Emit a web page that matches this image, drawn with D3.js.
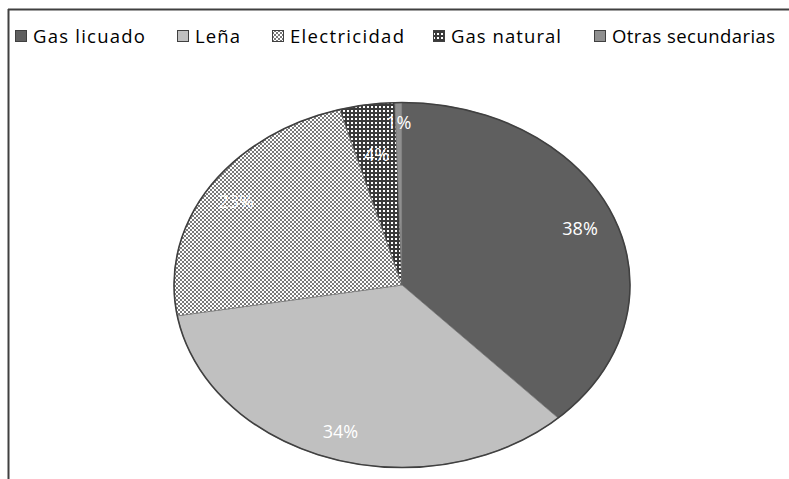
<!DOCTYPE html>
<html><head><meta charset="utf-8">
<script src="https://cdn.jsdelivr.net/npm/d3@7"></script>
<style>html,body{margin:0;padding:0;background:#fff;}svg{display:block;}</style>
</head><body>
<script>
const categories = ["Gas licuado", "Leña", "Electricidad", "Gas natural", "Otras secundarias"];
const values = [38.0, 34.3, 23.3, 3.9, 0.5];
const fills = ["#5f5f5f", "#c0c0c0", "url(#pElec)", "url(#pGasNat)", "#8f8f8f"];
const legendFills = ["#5f5f5f", "#c0c0c0", "url(#pElecL)", "url(#pGasNatL)", "#8f8f8f"];
// layout: radial position of each data label (fraction of radius)
const labelRadius = [0.84, 0.85, 0.86, 0.72, 0.89];

const W = 789, H = 479;
const cx = 402, cy = 285, rx = 228, ry = 182.5;
const sy = ry / rx;

const svg = d3.select("body").append("svg").attr("width", W).attr("height", H);
const defs = svg.append("defs");

function checker(id, tr) {
  const p = defs.append("pattern").attr("id", id).attr("patternUnits", "userSpaceOnUse")
    .attr("width", 4).attr("height", 4);
  if (tr) p.attr("patternTransform", tr);
  p.append("rect").attr("width", 4).attr("height", 4).attr("fill", "#ffffff");
  p.append("rect").attr("width", 2).attr("height", 2).attr("fill", "#7a7a7a");
  p.append("rect").attr("x", 2).attr("y", 2).attr("width", 2).attr("height", 2).attr("fill", "#7a7a7a");
}
function dots(id, tr) {
  const p = defs.append("pattern").attr("id", id).attr("patternUnits", "userSpaceOnUse")
    .attr("width", 4).attr("height", 4);
  if (tr) p.attr("patternTransform", tr);
  p.append("rect").attr("width", 4).attr("height", 4).attr("fill", "#3a3a3a");
  p.append("rect").attr("x", 1).attr("y", 1).attr("width", 2).attr("height", 2).attr("fill", "#ffffff");
}
checker("pElec", `scale(1,${1/sy})`);
dots("pGasNat", `scale(1,${1/sy})`);
checker("pElecL", null);
dots("pGasNatL", null);

// frame
svg.append("line").attr("x1", 8).attr("x2", W).attr("y1", 9.5).attr("y2", 9.5)
  .attr("stroke", "#404040").attr("stroke-width", 2);
svg.append("line").attr("x1", 8.5).attr("x2", 8.5).attr("y1", 9).attr("y2", H)
  .attr("stroke", "#404040").attr("stroke-width", 2);

// pie
const pie = d3.pie().sort(null).value(d => d)(values);
const arc = d3.arc().innerRadius(0).outerRadius(rx);
const g = svg.append("g").attr("transform", `translate(${cx},${cy}) scale(1,${sy})`);
g.selectAll("path.slice").data(pie).join("path").attr("class", "slice")
  .attr("d", arc).attr("fill", (d, i) => fills[i])
  .attr("stroke", "#666").attr("stroke-width", 0.6).attr("vector-effect", "non-scaling-stroke");
g.append("ellipse").attr("rx", rx).attr("ry", rx).attr("fill", "none")
  .attr("stroke", "#404040").attr("stroke-width", 1.6).attr("vector-effect", "non-scaling-stroke");

// labels
svg.append("g").selectAll("text").data(pie).join("text")
  .each(function (d, i) {
    const r = rx * labelRadius[i];
    const c = d3.arc().innerRadius(r).outerRadius(r).centroid(d);
    d3.select(this).attr("x", cx + c[0]).attr("y", cy + c[1] * sy);
  })
  .attr("dy", "0.35em")
  .attr("text-anchor", "middle")
  .attr("font-family", "'Open Sans', sans-serif").attr("font-size", 18)
  .attr("fill", "#ffffff")
  .text(d => Math.round(d.data) + "%");

// legend
const legX = [15, 177, 272, 433, 594];
const legW = [112, 45, 114, 110, 163];
const lg = svg.append("g");
categories.forEach((c, i) => {
  lg.append("rect").attr("x", legX[i] + 0.5).attr("y", 30.5).attr("width", 11).attr("height", 11)
    .attr("fill", legendFills[i]).attr("stroke", "#404040").attr("stroke-width", 1);
  lg.append("text").attr("x", legX[i] + 18).attr("y", 43)
    .attr("font-family", "'Open Sans', sans-serif").attr("font-size", 18.5).attr("fill", "#000")
    .attr("textLength", legW[i]).attr("lengthAdjust", "spacing")
    .text(c);
});
</script>
</body></html>
